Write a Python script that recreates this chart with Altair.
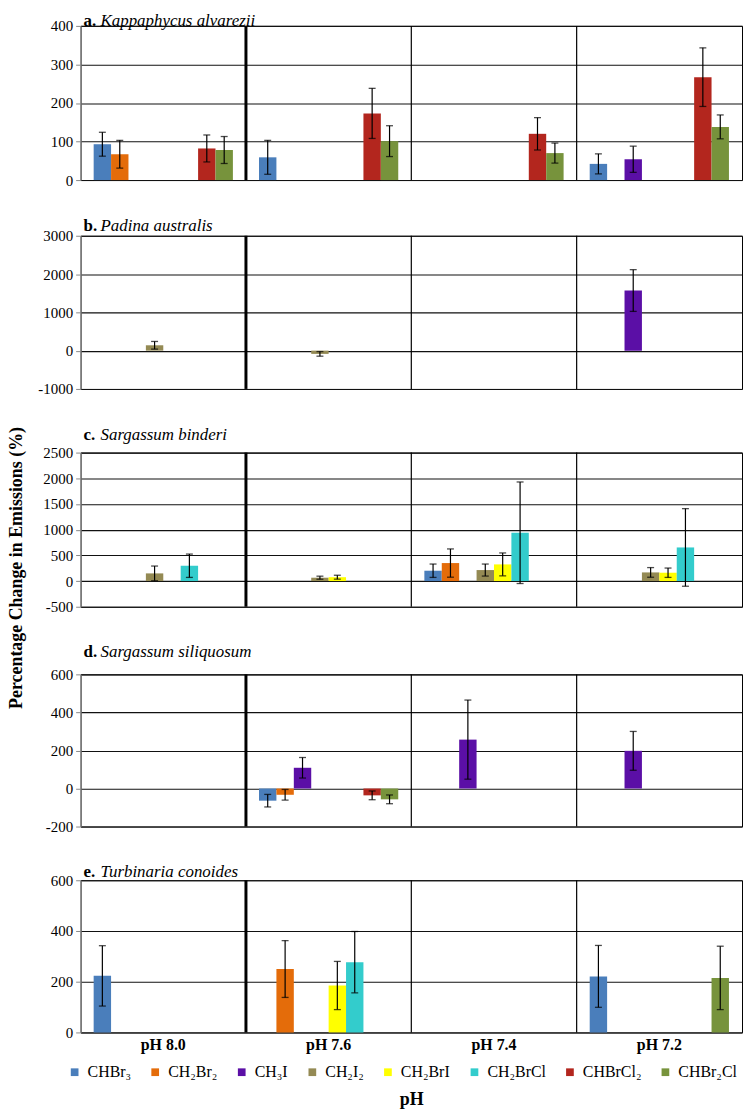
import altair as alt
import pandas as pd

SERIF = "Liberation Serif, Times New Roman, serif"

phs = ["pH 8.0", "pH 7.6", "pH 7.4", "pH 7.2"]
compounds = ["CHBr₃", "CH₂Br₂", "CH₃I", "CH₂I₂", "CH₂BrI", "CH₂BrCl", "CHBrCl₂", "CHBr₂Cl"]
colors = ["#4a7ebb", "#e46c0a", "#5b0fa6", "#948a54", "#ffff00", "#33cccc", "#b3261e", "#77933c"]
separators = ["pH 7.6", "pH 7.4", "pH 7.2"]

letters = ["a.", "b.", "c.", "d.", "e."]
species = ["Kappaphycus alvarezii", "Padina australis", "Sargassum binderi",
           "Sargassum siliquosum", "Turbinaria conoides"]
y_title = "Percentage Change in Emissions (%)"
x_title = "pH"

# a. Kappaphycus alvarezii
a_ph = ["pH 8.0", "pH 8.0", "pH 8.0", "pH 8.0", "pH 7.6", "pH 7.6", "pH 7.6",
        "pH 7.4", "pH 7.4", "pH 7.2", "pH 7.2", "pH 7.2", "pH 7.2"]
a_cmp = ["CHBr₃", "CH₂Br₂", "CHBrCl₂", "CHBr₂Cl", "CHBr₃", "CHBrCl₂", "CHBr₂Cl",
         "CHBrCl₂", "CHBr₂Cl", "CHBr₃", "CH₃I", "CHBrCl₂", "CHBr₂Cl"]
a_val = [93, 67, 82, 78, 59, 173, 101, 120, 70, 42, 54, 267, 138]
a_err = [31, 36, 35, 35, 44, 65, 40, 42, 26, 26, 34, 76, 31]

# b. Padina australis
b_ph = ["pH 8.0", "pH 7.6", "pH 7.2"]
b_cmp = ["CH₂I₂", "CH₂I₂", "CH₃I"]
b_val = [140, -85, 1570]
b_err = [100, 60, 545]

# c. Sargassum binderi
c_ph = ["pH 8.0", "pH 8.0", "pH 7.6", "pH 7.6", "pH 7.4", "pH 7.4", "pH 7.4",
        "pH 7.4", "pH 7.4", "pH 7.2", "pH 7.2", "pH 7.2"]
c_cmp = ["CH₂I₂", "CH₂BrCl", "CH₂I₂", "CH₂BrI", "CHBr₃", "CH₂Br₂", "CH₂I₂",
         "CH₂BrI", "CH₂BrCl", "CH₂I₂", "CH₂BrI", "CH₂BrCl"]
c_val = [149, 298, 65, 75, 201, 350, 214, 324, 940, 168, 162, 654]
c_err = [143, 227, 30, 38, 130, 275, 117, 223, 988, 94, 91, 755]

# d. Sargassum siliquosum
d_ph = ["pH 7.6", "pH 7.6", "pH 7.6", "pH 7.6", "pH 7.6", "pH 7.4", "pH 7.2"]
d_cmp = ["CHBr₃", "CH₂Br₂", "CH₃I", "CHBrCl₂", "CHBr₂Cl", "CH₃I", "CH₃I"]
d_val = [-64, -33, 109, -36, -57, 257, 198]
d_err = [33, 28, 54, 23, 23, 208, 102]

# e. Turbinaria conoides
e_ph = ["pH 8.0", "pH 7.6", "pH 7.6", "pH 7.6", "pH 7.2", "pH 7.2"]
e_cmp = ["CHBr₃", "CH₂Br₂", "CH₂BrI", "CH₂BrCl", "CHBr₃", "CHBr₂Cl"]
e_val = [223, 250, 185, 277, 221, 215]
e_err = [119, 112, 95, 121, 122, 125]

y_domains = [[0, 400], [-1000, 3000], [-500, 2500], [-200, 600], [0, 600]]
y_ticks = [[0, 100, 200, 300, 400], [-1000, 0, 1000, 2000, 3000],
           [-500, 0, 500, 1000, 1500, 2000, 2500], [-200, 0, 200, 400, 600],
           [0, 200, 400, 600]]

heights = [155, 154, 155, 153, 153]
title_offsets = [5, 10, 18, 22, 8]

color_scale = alt.Scale(domain=compounds, range=colors)
legend = alt.Legend(orient="none", legendX=-14, legendY=1044, direction="horizontal",
                    columns=8, title=None, symbolType="square", symbolSize=60,
                    symbolStrokeWidth=0, labelFont=SERIF, labelFontSize=16,
                    columnPadding=16, labelOffset=5, labelLimit=200)


def panel(i, ph, cmp, val, err, show_x):
    df = pd.DataFrame({"ph": ph, "compound": cmp, "value": val, "err": err})
    xscale = alt.Scale(domain=phs, paddingInner=0, paddingOuter=0)
    if show_x:
        xaxis = alt.Axis(title=x_title, labelAngle=0, ticks=False, tickSize=0, domain=False,
                         grid=False, labelFont=SERIF, labelFontSize=16, labelFontWeight="bold",
                         labelPadding=4, labelColor="#000", titleFont=SERIF, titleFontSize=18,
                         titleFontWeight="bold", titlePadding=38, titleColor="#000")
    else:
        xaxis = None
    yscale = alt.Scale(domain=y_domains[i], nice=False, zero=False)
    yaxis = alt.Axis(values=y_ticks[i], title=None, grid=True, gridColor="#111",
                     gridWidth=1.1, tickColor="#888", tickSize=5, domainColor="#888",
                     labelFont=SERIF, labelFontSize=15, labelColor="#000", labelPadding=3,
                     labelExpr="'' + datum.value",
                     labelFlush=False, labelOverlap=False, minExtent=44, maxExtent=44)
    xoff = alt.XOffset("compound:N", scale=alt.Scale(domain=compounds, paddingInner=0,
                                                     paddingOuter=0.75))
    base = alt.Chart(df)
    bars = base.mark_bar().encode(
        x=alt.X("ph:N", scale=xscale, axis=xaxis, sort=phs),
        xOffset=xoff,
        y=alt.Y("value:Q", scale=yscale, axis=yaxis),
        color=alt.Color("compound:N", scale=color_scale, legend=legend),
    )
    eb = base.transform_calculate(lo="datum.value - datum.err", hi="datum.value + datum.err")
    rule = eb.mark_rule(color="#000", strokeWidth=1.2).encode(
        x=alt.X("ph:N", scale=xscale, axis=xaxis, sort=phs),
        xOffset=xoff,
        y=alt.Y("lo:Q", scale=yscale, axis=yaxis),
        y2="hi:Q",
    )
    cap_hi = eb.mark_tick(color="#000", size=7, thickness=1.3).encode(
        x=alt.X("ph:N", scale=xscale, axis=xaxis, sort=phs),
        xOffset=xoff,
        y=alt.Y("hi:Q", scale=yscale, axis=yaxis),
    )
    cap_lo = eb.mark_tick(color="#000", size=7, thickness=1.3).encode(
        x=alt.X("ph:N", scale=xscale, axis=xaxis, sort=phs),
        xOffset=xoff,
        y=alt.Y("lo:Q", scale=yscale, axis=yaxis),
    )
    sep = alt.Chart(pd.DataFrame({"ph": separators})).mark_rule(color="#000").encode(
        x=alt.X("ph:N", scale=xscale, axis=xaxis, bandPosition=0, sort=phs),
        strokeWidth=alt.condition("datum.ph == 'pH 7.6'", alt.value(3), alt.value(1.2)),
    )
    t1 = alt.Chart(pd.DataFrame({"t": [letters[i]]})).mark_text(
        align="left", baseline="middle", font=SERIF, fontSize=17, fontWeight="bold",
        color="#000").encode(x=alt.value(3), y=alt.value(-title_offsets[i]), text="t:N")
    t2 = alt.Chart(pd.DataFrame({"t": [species[i]]})).mark_text(
        align="left", baseline="middle", font=SERIF, fontSize=17, fontStyle="italic",
        color="#000").encode(x=alt.value(20), y=alt.value(-title_offsets[i]), text="t:N")
    return alt.layer(bars, sep, rule, cap_hi, cap_lo, t1, t2).properties(
        width=665, height=heights[i])


panels = [
    panel(0, a_ph, a_cmp, a_val, a_err, False),
    panel(1, b_ph, b_cmp, b_val, b_err, False),
    panel(2, c_ph, c_cmp, c_val, c_err, False),
    panel(3, d_ph, d_cmp, d_val, d_err, False),
    panel(4, e_ph, e_cmp, e_val, e_err, True),
]

chart = alt.vconcat(*panels, spacing=27).properties(
    padding=0,
    title=alt.TitleParams(text=y_title, orient="left", anchor="middle", font=SERIF,
                          fontSize=18, fontWeight="bold", color="#000", offset=24,
                          dy=14, dx=-8),
).configure_view(stroke="#000", strokeWidth=1).configure_axis(
    labelFont=SERIF, titleFont=SERIF
).configure_text(font=SERIF)

chart.save("out.html", embed_options={"renderer": "svg", "actions": False})
